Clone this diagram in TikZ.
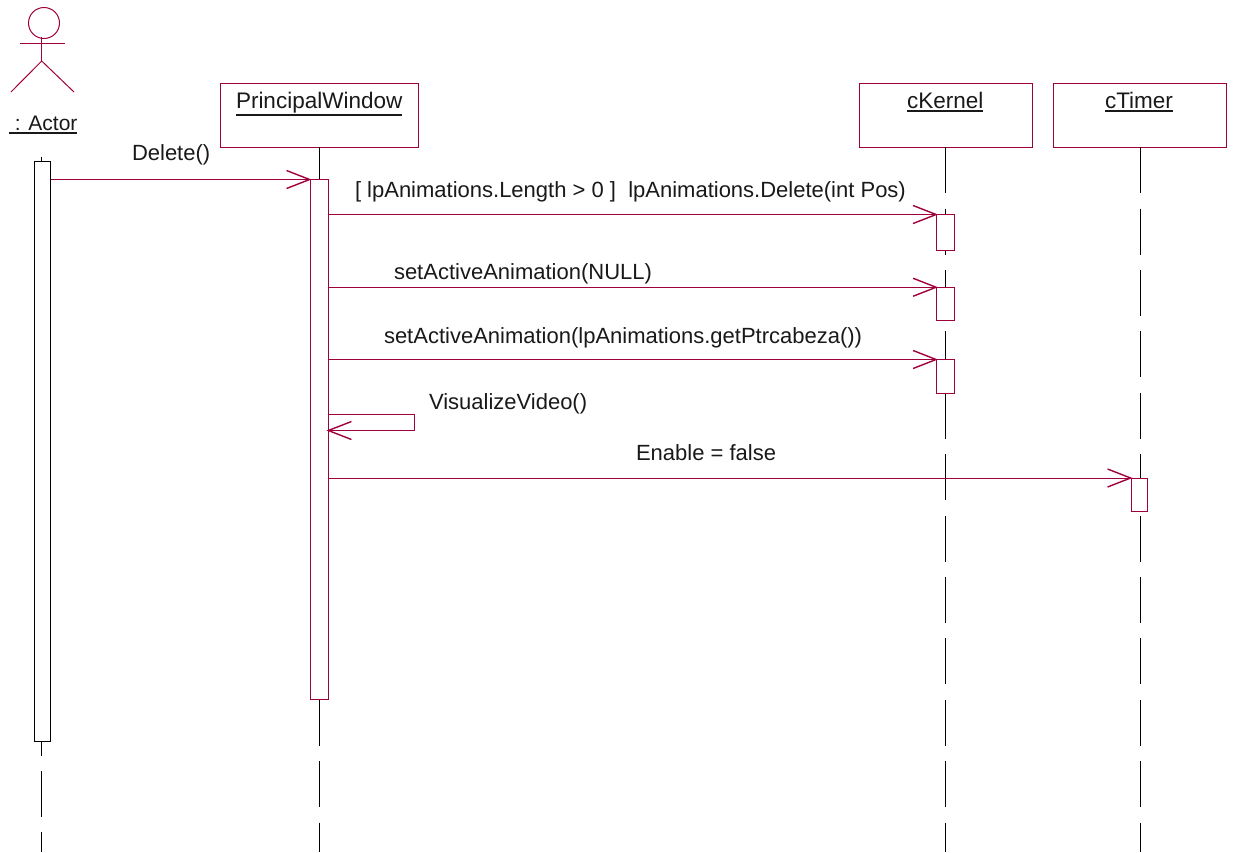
\documentclass[tikz,border=0pt]{standalone}
\usepackage{fontspec}
\setmainfont{Liberation Sans}
\usetikzlibrary{arrows.meta}
\definecolor{umlred}{RGB}{160,0,60}
\newcommand{\nameline}[1]{\leavevmode\vtop{\hbox{#1}\kern1.6pt\hrule height 1.8pt}}
\tikzset{
	objbox/.style={draw=umlred, fill=white, minimum width=173pt, minimum height=63.5pt, inner sep=0pt, outer sep=0pt},
	bar/.style={draw=umlred, fill=white, minimum width=18pt, inner sep=0pt, outer sep=0pt},
	lifeline/.style={black, dash pattern=on 46pt off 15.4pt},
	msg/.style={umlred, shorten >=-1.5pt, -{Straight Barb[length=23pt, width=18pt, line width=1.4pt]}},
	txt/.style={anchor=base west, inner sep=0pt, outer sep=0pt, font=\fontsize{22}{26}\selectfont, text=black!90},
	objtxt/.style={txt, font=\fontsize{22.5}{26}\selectfont}
}
\begin{document}
\begin{tikzpicture}[x=1pt, y=-1pt, line width=1pt]
	\useasboundingbox (0,0) rectangle (1233,852);

	% --- actor ---
	\draw[umlred] (44,23) circle (15.5);
	\draw[umlred] (20,43) -- (65,43);
	\draw[umlred] (41.7,37) -- (41.7,61);
	\draw[umlred] (11,92) -- (41.7,61) -- (74,92);
	\node[txt, font=\fontsize{21}{25}\selectfont] (actorName) at (9,130) {\nameline{\ : Actor}};

	% --- objects ---
	\node[objbox, minimum width=198pt] (window) at (319,115.5) {};
	\node[objbox] (kernel) at (945.5,115.5) {};
	\node[objbox] (timer) at (1140,115.5) {};
	\node[objtxt] (windowName) at (236,108) {\nameline{PrincipalWindow}};
	\node[objtxt] (kernelName) at (907,108) {\nameline{cKernel}};
	\node[objtxt] (timerName) at (1105,108) {\nameline{cTimer}};

	% --- lifelines ---
	\coordinate (actorTop) at (41.7,157);
	\coordinate (bottom) at (0,852);
	\draw[lifeline] (actorTop) -- (actorTop |- bottom);
	\draw[lifeline] (window.south) -- (window.south |- bottom);
	\draw[lifeline] (kernel.south) -- (kernel.south |- bottom);
	\draw[lifeline] (timer.south) -- (timer.south |- bottom);

	% --- activation bars ---
	\node[bar, draw=black, minimum width=16pt, minimum height=580pt] (actorBar) at (42.5,451.5) {};
	\node[bar, minimum height=519.5pt] (windowBar) at (319,439.25) {};
	\node[bar, minimum height=35.5pt] (kernelBarA) at (945.5,232.25) {};
	\node[bar, minimum height=33.5pt] (kernelBarB) at (945.5,304) {};
	\node[bar, minimum height=33.5pt] (kernelBarC) at (945.5,376.25) {};
	\node[bar, minimum width=16pt, minimum height=33pt] (timerBar) at (1139,494.5) {};

	% --- messages ---
	\draw[msg] (actorBar.east |- windowBar.north) -- (windowBar.north west);
	\draw[msg] (windowBar.east |- kernelBarA.north) -- (kernelBarA.north west);
	\draw[msg] (windowBar.east |- kernelBarB.north) -- (kernelBarB.north west);
	\draw[msg] (windowBar.east |- kernelBarC.north) -- (kernelBarC.north west);
	\coordinate (selfTop) at (414.5,414.5);
	\coordinate (selfEnd) at (414.5,430.5);
	\draw[msg] (windowBar.east |- selfTop) -- (selfTop) -- (selfEnd) -- (windowBar.east |- selfEnd);
	\draw[msg] (windowBar.east |- timerBar.north) -- (timerBar.north west);

	% --- labels ---
	\node[txt] (deleteLabel) at (132,160) {Delete()};
	\node[txt] (guardLabel) at (355,197) {[ lpAnimations.Length > 0 ]\ \ lpAnimations.Delete(int Pos)};
	\node[txt] (nullLabel) at (394,279) {setActiveAnimation(NULL)};
	\node[txt] (headLabel) at (384,343) {setActiveAnimation(lpAnimations.getPtrcabeza())};
	\node[txt] (videoLabel) at (429,409) {VisualizeVideo()};
	\node[txt] (enableLabel) at (636,460) {Enable = false};
\end{tikzpicture}
\end{document}
